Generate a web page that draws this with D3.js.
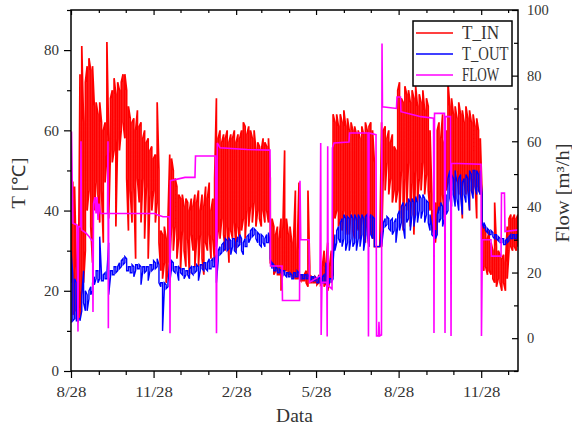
<!DOCTYPE html>
<html>
<head>
<meta charset="utf-8">
<script src="https://cdn.jsdelivr.net/npm/d3@7/dist/d3.min.js"></script>
<style>
  body { margin: 0; background: #fff; }
  text { font-family: "Liberation Serif", "Times New Roman", serif; fill: #333; }
</style>
</head>
<body>
<div id="chart"></div>
<script>
// readings sampled every 2 days from 8/28, hi/lo envelope of each sample window
const sampleStep = 2;
const tinHi = [
  48,47,46,25,13, 74,81,62,72,76, 78,75,76,66,67, 64,67,62,60,62,
  82,58,68,70,73, 69,72,70,72,74, 74,70,66,63,62, 63,60,65,61,62,
  58,60,57,58,55, 56,53,54,67,50, 35,34,36,33,38, 54,53,50,48,46,
  44,43,44,41,43, 42,40,43,41,44, 42,45,40,44,41, 46,43,47,40,43,
  48,68,58,60,57, 59,58,60,57,59, 58,60,57,59,58, 60,62,61,59,61,
  60,58,60,55,57, 56,55,58,57,56, 58,48,38,36,34, 36,33,38,35,55,
  38,34,36,32,33, 45,30,47,24,24, 24,25,45,26,23.5, 23,23.5,23,24,23,
  26,30,27,32,26, 30,64,62,64,61, 64,62,65,61,63, 60,62,60,61,59,
  60,58,61,59,62, 60,61,62,60,52, 31,31,31,62,60, 61,58,60,57,59,
  56,55,70,72,68, 67,71,69,70,67, 70,68,71,66,69, 67,70,65,68,66,
  60,44,40,42,60, 62,58,64,57,60, 72,66,68,64,66, 63,67,64,65,62,
  66,63,65,62,64, 61,63,60,58,44, 36,35,33,35,32, 30,42,31,30,29,
  28,29,27,36,38, 39,38,39,38,39
];
const tinLo = [
  22,14,15,13,12.5, 13,20,22,30,40, 45,36,27,40,47, 44,37,45,32,47,
  54,38,55,52,55, 36,58,55,60,62, 58,48,35,45,37, 46,28,48,42,37,
  48,33,46,28,44, 40,45,37,42,32, 25,23,27,22,25, 27,36,30,36,28,
  33,25,35,30,26, 33,24,34,30,26, 33,26,34,28,24, 32,30,34,28,33,
  27,31,35,33,38, 34,30,36,27,35, 33,37,30,36,32, 35,38,33,40,36,
  41,37,42,36,40, 38,36,40,37,40, 37,27,26,24,25, 24,24,20,25,25,
  25,24,24,24,23, 23,23,23,22.5,22.5, 22.5,22,21,22,22, 22,22,21.5,22,21.5,
  22,21,22,20,22, 23,24,38,40,36, 38,35,40,34,39, 34,40,35,33,38,
  35,33,38,34,32, 36,31,35,33,31, 31,31,31,31,50, 45,52,44,48,42,
  45,42,45,38,50, 35,48,40,52,36, 47,34,50,42,48, 45,52,44,49,45,
  40,36,34,32,38, 40,42,44,38,45, 47,50,45,48,42, 50,44,48,38,47,
  44,49,40,48,44, 48,38,46,44,26, 25,26,24,25,24, 23,22,21,23,22,
  20,22,20,23,30, 31,30,31,30,31
];
const toutHi = [
  30,24,23,22,13, 13,19,25,20,19, 20,21,22,23.5,25, 25,33.5,24,24,24.5,
  24.5,32,25,25,26, 26,26,27,27.5,28, 28.5,28,26,26,26.5, 26,26.5,26.5,26.5,26,
  26,26,26,26,26.5, 26.5,27.5,27,28,26.5, 22,22,22,21.5,22, 27,27.5,27,26,26,
  26,25.5,25.5,25.5,25, 25,25.5,26,26,26, 26.5,26,26.5,26.5,27, 27,27,28,27.5,28,
  28,29,30,31,31.5, 32,33,32.5,33,32.5, 33,33,32,33.5,34, 33,32,33,33.5,34,
  35,35.5,35.5,35,34.5, 34,34,33.5,33,34, 34.5,32,27,26.5,26, 25.5,25.5,25,25,25,
  24.5,24.5,24.5,24,24.5, 24.5,25,24.5,24,24, 24,24,24,23.5,23.5, 23.5,23.5,23,23.5,23,
  23.5,24,27,23,23, 23,27,34,35,36, 37,38,39,38,38.5, 38,39,38,39,38,
  39,38,39,38,38.5, 39,38,39,38.5,38, 31,31,31,35,37, 38,38.5,38,37.5,38,
  37,38,39,40,41, 42,41,42,43,42, 43,42,43.5,42,44, 43,44,43,42.5,42,
  39,36,35,35,39, 41,42,41,42,44, 48,50,49,48,50, 47,48,49,47,48,
  49,48,50,49,50, 50,50,49,50,44, 37,36,35.5,35,35, 34.5,34,34,33.5,33,
  33,33,32.5,33,33.5, 34,34,34,34,34
];
const toutLo = [
  12,12.5,13,12.5,12.5, 12.5,15,17,15,15, 18,19,20,21.5,23, 22,23,22.5,22.5,23,
  23,19,23.5,24,24, 24.5,25,25.5,26,26.5, 27,25,25,24.5,24.5, 23.5,25,25.5,25.5,21.5,
  25,24.5,25,22.5,25, 25,25.5,25.5,26,22, 21,10,20.5,20.5,21, 22,25.5,25,24.5,25,
  22.5,24.5,24,23,24, 24,23,24.5,24,24.5, 25,22.5,25,25.5,25, 25.5,25,25.5,25.5,26,
  26,22,27.5,29,29.5, 30,30.5,30,30.5,29, 31,30,29.5,31,31.5, 30,29,31,31,32,
  33,33.5,34,33,32, 31.5,31,32,31,32, 32,28,25.5,25,25, 24.5,24.5,24.5,24,24,
  23.5,23.5,23.5,23,23, 23.5,23.5,23.5,23,23, 23,23,23,23,22.5, 22.5,22.5,22,22,22,
  22,22,22,21.5,22, 22,23,30,32,33, 32,31,33,30,32, 30,33,31,32,30,
  33,31,34,30,33, 34,31,34,33,31, 31,31,31,31,35, 36,36.5,35.5,35,34,
  35,32,36,35,37, 36,33,37,38,35, 39,36,39,37,40, 38,40,37,39,37,
  35,34,33.5,33,34, 37,38,36,38,39, 40,43,41,44,41, 43,40,44,39,44,
  42,45,40,45,43, 46,44,45,44,37, 35.5,35,34.5,34,34, 33.5,33,33,32.5,32,
  32,31.5,31.5,32,32.5, 33,33,33,33,33
];
// flow: day since 8/28 and value [m3/h]
const flowDays = [
  0,0.56,1.34,2.2,6.7,7.8,8.4,10.6,11.1,11.7,16.7,20.1,24.0,24.5,25.1,26.7,27.9,29.0,30.1,31.2,
  32.9,40.7,41.2,41.6,42.0,93.6,96.9,102.5,109.7,110.3,110.8,127.0,138.1,138.7,161.0,162.1,163.0,166.0,196.1,221.7,
  222.3,235.1,235.6,254.6,255.1,256.0,265.2,265.7,277.4,278.2,278.7,279.6,285.0,285.4,286.0,286.5,290.8,291.3,293.0,309.7,
  310.3,330.9,331.4,332.0,339.8,340.4,342.6,343.1,343.7,345.9,346.5,347.0,362.6,363.2,367.1,367.6,389.9,403.9,404.4,405.0,
  416.1,416.7,417.2,422.8,423.4,423.9,456.8,457.3,458.4,467.9,468.4,479.1,479.6,482.9,483.5,498
];
const flowVals = [
  35,63,48,35,34.5,2,34,34,60,33,32,31,29.5,8,41,43,38,43,36,41,
  38,38,60,3,38,38,37.5,37,37,1.5,48,49,49,55.5,55.5,1.5,59.5,58,57.5,57.3,
  22,22,11.5,11.5,48,30,30,17,19,59.5,1,17,17,0.5,58.5,16,15,58,59.5,59.8,
  62.5,62.5,0.5,62.5,62,0.7,0.7,5,0.7,1,89.8,70.5,70,73.5,73.5,69,67.5,67,1.6,68.5,
  68.5,1.6,67.5,67.5,0.7,53.3,53,0.7,30,30,25,25,44.2,44.2,32.5,33
];
const series = ['T_IN', 'T_OUT', 'FLOW'];
const colors = ['#ff0000', '#0000ff', '#ff00ff'];
const tempTicks = [0, 20, 40, 60, 80];
const flowTicks = [0, 20, 40, 60, 80, 100];

const W = 572, H = 428;
const margin = {top: 10, right: 54, bottom: 57, left: 71};
const x0 = margin.left, x1 = W - margin.right, y0 = H - margin.bottom, y1 = margin.top;

const start = new Date(Date.UTC(2018, 7, 28));
const end = new Date(Date.UTC(2020, 0, 8));
const atDay = d => new Date(start.getTime() + d * 864e5);

const xscale = d3.scaleUtc().domain([start, end]).range([x0, x1]);
const yT = d3.scaleLinear().domain([0, 90]).range([y0, y1]);
const yF = d3.scaleLinear().domain([-10, 100]).range([y0, y1]);

const svg = d3.select('#chart').append('svg')
  .attr('width', W).attr('height', H)
  .style('background', '#fff');

// SimSun-like: half-width glyph advance
function halfWidth(s) {
  let n = 0;
  for (const ch of s) n += ch.charCodeAt(0) > 0x2000 ? 1 : 0.5;
  return n;
}
function fitText(sel, em) {
  sel.each(function() {
    const t = d3.select(this);
    const s = t.text();
    if (s) t.attr('textLength', halfWidth(s) * em).attr('lengthAdjust', 'spacingAndGlyphs');
  });
}

svg.append('clipPath').attr('id', 'plot')
  .append('rect').attr('x', x0).attr('y', y1).attr('width', x1 - x0).attr('height', y0 - y1);

// envelope traced up and down at every sample so the band reads as dense
function bandPath(hi, lo, yscale) {
  const pts = [];
  hi.forEach((h, i) => {
    const x = xscale(atDay(i * sampleStep));
    const a = [x, yscale(lo[i])], b = [x, yscale(h)];
    if (i % 2 === 0) pts.push(a, b); else pts.push(b, a);
  });
  return d3.line()(pts);
}

const g = svg.append('g').attr('clip-path', 'url(#plot)');
g.append('path').attr('d', bandPath(tinHi, tinLo, yT))
  .attr('fill', 'none').attr('stroke', colors[0]).attr('stroke-width', 1.7);
g.append('path').attr('d', bandPath(toutHi, toutLo, yT))
  .attr('fill', 'none').attr('stroke', colors[1]).attr('stroke-width', 1.4);
const flowLine = d3.line()
  .x((d, i) => xscale(atDay(flowDays[i])))
  .y(d => yF(d));
g.append('path').attr('d', flowLine(flowVals))
  .attr('fill', 'none').attr('stroke', colors[2]).attr('stroke-width', 1.6);

// axes
const monthTicks = d3.range(0, 17).map(m => new Date(Date.UTC(2018, 7 + m, 28)));
const majorX = monthTicks.filter((d, i) => i % 3 === 0);
const minorX = monthTicks.filter((d, i) => i % 3 !== 0);
const fmt = d3.utcFormat('%-m/%d');

function styleAxis(sel) {
  sel.select('.domain').remove();
  sel.selectAll('line').attr('stroke', '#000').attr('stroke-width', 1.2);
  sel.selectAll('text').attr('font-size', 15).attr('fill', '#333');
}

svg.append('g').attr('transform', `translate(0,${y0})`)
  .call(d3.axisBottom(xscale).tickValues(majorX).tickFormat(fmt).tickSize(7).tickPadding(6))
  .call(styleAxis)
  .call(a => a.selectAll('text').attr('dy', null).attr('y', 26).call(fitText, 15));
svg.append('g').attr('transform', `translate(0,${y0})`)
  .call(d3.axisBottom(xscale).tickValues(minorX).tickFormat('').tickSize(4))
  .call(styleAxis);
svg.append('g').attr('transform', `translate(0,${y1})`)
  .call(d3.axisTop(xscale).tickValues(majorX).tickFormat('').tickSize(-5))
  .call(styleAxis);
svg.append('g').attr('transform', `translate(0,${y1})`)
  .call(d3.axisTop(xscale).tickValues(minorX).tickFormat('').tickSize(-3))
  .call(styleAxis);

svg.append('g').attr('transform', `translate(${x0},0)`)
  .call(d3.axisLeft(yT).tickValues(tempTicks).tickSize(7).tickPadding(5))
  .call(styleAxis)
  .call(a => a.selectAll('text').call(fitText, 15));
svg.append('g').attr('transform', `translate(${x0},0)`)
  .call(d3.axisLeft(yT).tickValues([10, 30, 50, 70, 90]).tickFormat('').tickSize(4))
  .call(styleAxis);

svg.append('g').attr('transform', `translate(${x1},0)`)
  .call(d3.axisRight(yF).tickValues(flowTicks).tickSize(-6).tickPadding(9))
  .call(styleAxis)
  .call(a => a.selectAll('text').call(fitText, 14.5));
svg.append('g').attr('transform', `translate(${x1},0)`)
  .call(d3.axisRight(yF).tickValues([-10, 10, 30, 50, 70, 90]).tickFormat('').tickSize(-4))
  .call(styleAxis);

svg.append('rect')
  .attr('x', x0).attr('y', y1).attr('width', x1 - x0).attr('height', y0 - y1)
  .attr('fill', 'none').attr('stroke', '#000').attr('stroke-width', 1.5);

// titles
svg.append('text').text('Data')
  .attr('x', (x0 + x1) / 2).attr('y', 422)
  .attr('text-anchor', 'middle').attr('font-size', 19)
  .call(fitText, 18.4);
svg.append('text').text('T [℃]')
  .attr('transform', 'translate(18.5,183) rotate(-90)')
  .attr('text-anchor', 'middle').attr('dominant-baseline', 'central')
  .attr('font-size', 18)
  .call(fitText, 17);
svg.append('text').text('Flow [m³/h]')
  .attr('transform', 'translate(563,193) rotate(-90)')
  .attr('text-anchor', 'middle').attr('dominant-baseline', 'central')
  .attr('font-size', 18)
  .call(fitText, 18);

// legend
const lg = svg.append('g').attr('transform', 'translate(413,21)');
lg.append('rect').attr('width', 99).attr('height', 65)
  .attr('fill', '#fff').attr('stroke', '#000').attr('stroke-width', 1.5);
const rows = lg.selectAll('g.row').data(series).join('g')
  .attr('class', 'row')
  .attr('transform', (d, i) => `translate(0,${12 + i * 21})`);
rows.append('line').attr('x1', 3).attr('x2', 40)
  .attr('stroke', (d, i) => colors[i]).attr('stroke-width', 1.3);
rows.append('text').text(d => d)
  .attr('x', 49).attr('dominant-baseline', 'central')
  .attr('font-size', 18)
  .call(fitText, 18.6);
</script>
</body>
</html>
